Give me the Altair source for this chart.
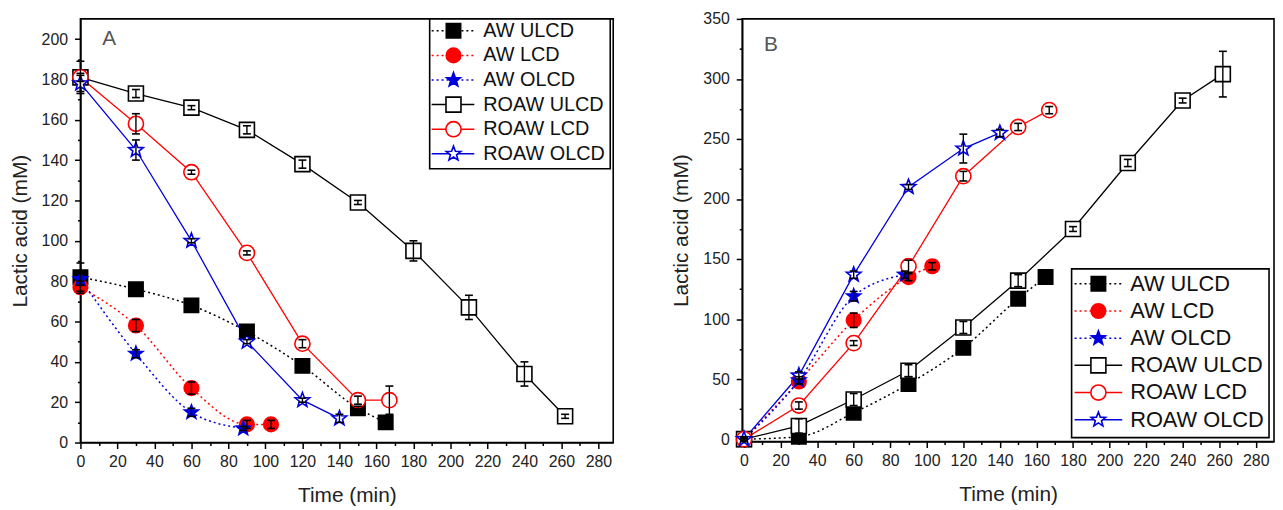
import math
import altair as alt
import pandas as pd

# ---------------- data ----------------
SERIES = ["AW ULCD", "AW LCD", "AW OLCD", "ROAW ULCD", "ROAW LCD", "ROAW OLCD"]

# Panel A (consumption)
A_AW_ULCD_t = [0, 30, 60, 90, 120, 150, 165]
A_AW_ULCD_v = [82, 76, 68, 55, 38, 17, 10]
A_AW_ULCD_e = [7, 1, 1, 2, 1, 1, 1]
A_AW_LCD_t = [0, 30, 60, 90, 103]
A_AW_LCD_v = [77, 58, 27, 9, 9]
A_AW_LCD_e = [3, 3, 3, 2, 2]
A_AW_OLCD_t = [0, 30, 60, 88]
A_AW_OLCD_v = [81, 44, 15, 7]
A_AW_OLCD_e = [3, 2, 2, 1]
A_ROAW_ULCD_t = [0, 30, 60, 90, 120, 150, 180, 210, 240, 262]
A_ROAW_ULCD_v = [181, 173, 166, 155, 138, 119, 95, 67, 34, 13]
A_ROAW_ULCD_e = [8, 2, 1, 2, 2, 1, 5, 6, 6, 1]
A_ROAW_LCD_t = [0, 30, 60, 90, 120, 150, 167]
A_ROAW_LCD_v = [181, 158, 134, 94, 49, 21, 21]
A_ROAW_LCD_e = [2, 5, 1, 1, 2, 2, 7]
A_ROAW_OLCD_t = [0, 30, 60, 90, 120, 140]
A_ROAW_OLCD_v = [178, 145, 100, 50, 21, 12]
A_ROAW_OLCD_e = [4, 5, 1, 1, 1, 2]

# Panel B (production)
B_AW_ULCD_t = [0, 30, 60, 90, 120, 150, 165]
B_AW_ULCD_v = [0, 2, 22, 46, 76, 117, 135]
B_AW_ULCD_e = [1, 1, 2, 6, 2, 2, 2]
B_AW_LCD_t = [0, 30, 60, 90, 103]
B_AW_LCD_v = [0, 48, 99, 135, 144]
B_AW_LCD_e = [1, 2, 6, 3, 3]
B_AW_OLCD_t = [0, 30, 60, 88]
B_AW_OLCD_v = [0, 49, 119, 137]
B_AW_OLCD_e = [1, 3, 4, 3]
B_ROAW_ULCD_t = [0, 30, 60, 90, 120, 150, 180, 210, 240, 262]
B_ROAW_ULCD_v = [0, 11, 33, 57, 93, 132, 175, 230, 282, 304]
B_ROAW_ULCD_e = [2, 6, 5, 5, 5, 5, 2, 3, 2, 19]
B_ROAW_LCD_t = [0, 30, 60, 90, 120, 150, 167]
B_ROAW_LCD_v = [0, 28, 80, 144, 219, 260, 274]
B_ROAW_LCD_e = [1, 3, 2, 5, 4, 3, 3]
B_ROAW_OLCD_t = [0, 30, 60, 90, 120, 140]
B_ROAW_OLCD_v = [0, 53, 137, 210, 242, 255]
B_ROAW_OLCD_e = [2, 3, 3, 2, 12, 3]

# ---------------- style ----------------
FONT = "Liberation Sans"
COLORS = ["#000000", "#ff0000", "#0000dd", "#000000", "#ff0000", "#0000dd"]
FILLS = ["#000000", "#ff0000", "#0000dd", "#ffffff", "#ffffff", "#ffffff"]


def star_path(r_in=0.42):
    pts = []
    for i in range(10):
        r = 1.0 if i % 2 == 0 else r_in
        a = -math.pi / 2 + i * math.pi / 5
        pts.append(f"{r * math.cos(a):.3f},{r * math.sin(a):.3f}")
    return "M" + " L".join(pts) + " Z"


STAR = star_path()
SHAPES = ["square", "circle", STAR, "square", "circle", STAR]


def build(series_data):
    rows = []
    for name, (ts, vs, es) in zip(SERIES, series_data):
        for t, v, e in zip(ts, vs, es):
            rows.append({"series": name, "grp": "AW" if name.startswith("AW") else "ROAW",
                         "t": t, "v": v, "lo": v - e, "hi": v + e})
    return pd.DataFrame(rows)


dfA = build([
    (A_AW_ULCD_t, A_AW_ULCD_v, A_AW_ULCD_e),
    (A_AW_LCD_t, A_AW_LCD_v, A_AW_LCD_e),
    (A_AW_OLCD_t, A_AW_OLCD_v, A_AW_OLCD_e),
    (A_ROAW_ULCD_t, A_ROAW_ULCD_v, A_ROAW_ULCD_e),
    (A_ROAW_LCD_t, A_ROAW_LCD_v, A_ROAW_LCD_e),
    (A_ROAW_OLCD_t, A_ROAW_OLCD_v, A_ROAW_OLCD_e),
])
dfB = build([
    (B_AW_ULCD_t, B_AW_ULCD_v, B_AW_ULCD_e),
    (B_AW_LCD_t, B_AW_LCD_v, B_AW_LCD_e),
    (B_AW_OLCD_t, B_AW_OLCD_v, B_AW_OLCD_e),
    (B_ROAW_ULCD_t, B_ROAW_ULCD_v, B_ROAW_ULCD_e),
    (B_ROAW_LCD_t, B_ROAW_LCD_v, B_ROAW_LCD_e),
    (B_ROAW_OLCD_t, B_ROAW_OLCD_v, B_ROAW_OLCD_e),
])

stroke_enc = alt.Stroke("series:N", scale=alt.Scale(domain=SERIES, range=COLORS), legend=None)
fill_enc = alt.Fill("series:N", scale=alt.Scale(domain=SERIES, range=FILLS), legend=None)
shape_enc = alt.Shape("series:N", scale=alt.Scale(domain=SERIES, range=SHAPES), legend=None)


def panel(df, xdom, ydom, yvals, ymaj, w, h, letter, letter_xy, leg, sizes):
    size_enc = alt.Size("series:N", scale=alt.Scale(domain=SERIES, range=sizes), legend=None)
    xaxis = alt.Axis(values=list(range(0, 281, 10)),
                     labelExpr="datum.value % 20 === 0 ? datum.label : ''",
                     tickSize={"condition": {"test": "datum.value % 20 !== 0", "value": 3}, "value": 6},
                     labelOverlap=False, labelFlush=False, grid=False, title="Time (min)")
    yaxis = alt.Axis(values=yvals,
                     labelExpr=f"datum.value % {ymaj} === 0 ? datum.label : ''",
                     tickSize={"condition": {"test": f"datum.value % {ymaj} !== 0", "value": 3}, "value": 6},
                     labelOverlap=False, labelFlush=False, grid=False, title="Lactic acid (mM)")
    xs = alt.Scale(domain=xdom, nice=False, zero=False)
    ys = alt.Scale(domain=ydom, nice=False, zero=False)
    X = alt.X("t:Q", scale=xs, axis=xaxis)

    def Y(f):
        return alt.Y(f"{f}:Q", scale=ys, axis=yaxis)

    base = alt.Chart(df)
    dotted = base.transform_filter("datum.grp === 'AW'").mark_line(
        strokeDash=[2, 3], strokeWidth=1.5, interpolate="monotone"
    ).encode(x=X, y=Y("v"), stroke=stroke_enc, detail="series:N")
    solid = base.transform_filter("datum.grp === 'ROAW'").mark_line(
        strokeWidth=1.3
    ).encode(x=X, y=Y("v"), stroke=stroke_enc, detail="series:N")
    pts = base.mark_point(filled=False, strokeWidth=1.6, opacity=1).encode(
        x=X, y=Y("v"), stroke=stroke_enc, fill=fill_enc, shape=shape_enc, size=size_enc
    )
    err = base.mark_rule(color="black", strokeWidth=1.4).encode(x=X, y=Y("lo"), y2="hi:Q")
    caps = base.transform_fold(["lo", "hi"], as_=["k", "yv"]).mark_point(
        shape="stroke", size=64, color="black", strokeWidth=1.6, filled=False, opacity=1
    ).encode(x=X, y=Y("yv"))

    # legend (drawn manually to show line style + marker)
    lx1, lx2, lsx, ltx, box, top, step, lfs = leg
    one = alt.Chart(pd.DataFrame({"a": [0]}))
    legdf = pd.DataFrame({"series": SERIES, "label": SERIES,
                          "grp": ["AW", "AW", "AW", "ROAW", "ROAW", "ROAW"],
                          "ly": [top + i * step for i in range(6)]})
    lb = alt.Chart(legdf)
    LY = alt.Y("ly:Q", scale=None, axis=None)
    boxm = one.mark_rect(fill="white", stroke="black", strokeWidth=1.6).encode(
        x=alt.value(box[0]), x2=alt.value(box[1]), y=alt.value(box[2]), y2=alt.value(box[3]))
    lrule_d = lb.transform_filter("datum.grp === 'AW'").mark_rule(strokeDash=[2, 3], strokeWidth=1.5).encode(
        x=alt.value(lx1), x2=alt.value(lx2), y=LY, stroke=stroke_enc)
    lrule_s = lb.transform_filter("datum.grp === 'ROAW'").mark_rule(strokeWidth=1.5).encode(
        x=alt.value(lx1), x2=alt.value(lx2), y=LY, stroke=stroke_enc)
    lpts = lb.mark_point(filled=False, strokeWidth=1.6, opacity=1).encode(
        x=alt.value(lsx), y=LY, stroke=stroke_enc, fill=fill_enc, shape=shape_enc, size=size_enc)
    ltxt = lb.mark_text(align="left", baseline="middle", fontSize=lfs, font=FONT, color="#111").encode(
        x=alt.value(ltx), y=LY, text="label:N")

    let = one.mark_text(align="left", baseline="middle", fontSize=21, font=FONT, color="#555").encode(
        x=alt.value(letter_xy[0]), y=alt.value(letter_xy[1]), text=alt.value(letter))

    return alt.layer(dotted, solid, pts, err, caps, boxm, lrule_d, lrule_s, lpts, ltxt, let).properties(
        width=w, height=h)


pA = panel(dfA, [0, 288], [0, 210], list(range(0, 201, 10)), 20, 537, 427, "A", (22, 20),
           (354, 397, 376, 406, (352, 534, 0, 151), 12, 24.8, 20), [210, 240, 330, 210, 240, 330])
pB = panel(dfB, [-1, 290], [-2, 350], list(range(0, 351, 25)), 50, 536, 426, "B", (22, 26),
           (335, 383, 359, 391, (332, 531, 252, 422), 267, 27.4, 22), [180, 210, 300, 180, 210, 300])

chart = alt.hconcat(pA, pB, spacing=56).properties(
    padding={"left": 0, "top": 0, "right": 0, "bottom": 0}
).configure_view(stroke="black", strokeWidth=1.6).configure_axis(
    domainColor="black", domainWidth=1.6, tickColor="black", tickWidth=1.5,
    labelFont=FONT, labelFontSize=16, labelColor="#222",
    titleFont=FONT, titleFontSize=21, titleFontWeight="normal", titleColor="#222",
).configure_axisX(labelPadding=5, titlePadding=15).configure_axisY(labelPadding=7, titlePadding=11)

chart.save("out.html", embed_options={"renderer": "svg", "actions": False})
